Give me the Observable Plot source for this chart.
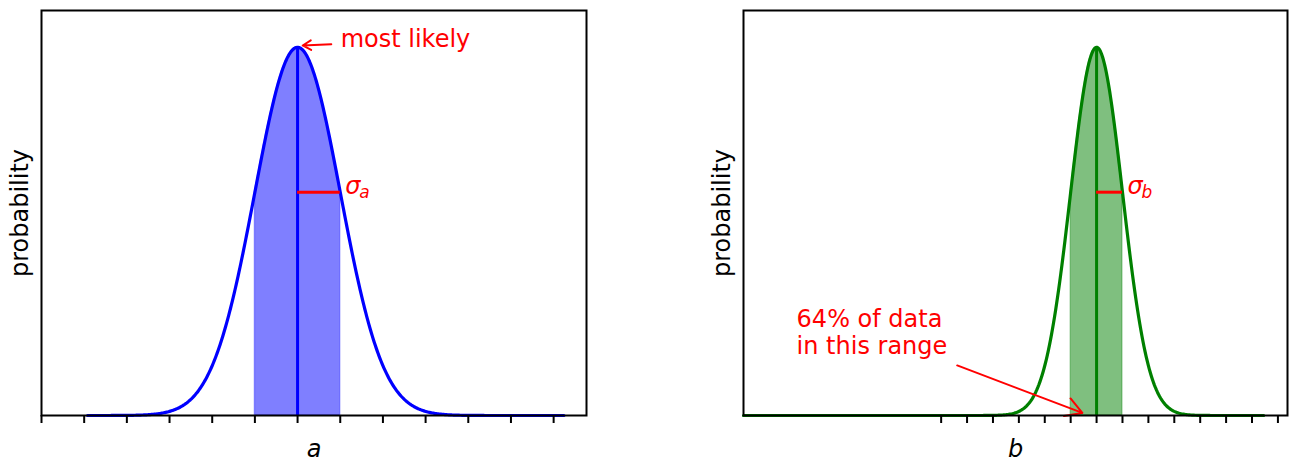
<!DOCTYPE html>
<html><head><meta charset="utf-8">
<script src="https://cdn.jsdelivr.net/npm/d3@7"></script>
<script src="https://cdn.jsdelivr.net/npm/@observablehq/plot@0.6"></script>
<style>
body{margin:0;background:#fff;overflow:hidden}
#row{display:flex;width:1290px;height:462px}
#row svg{flex:none}
</style></head><body><div id="row"></div>
<script>
// ---- Panel a (blue) ----
const aMean = 0, aSigma = 1;
const aDomain = [-6, 6.77];
const aCurveRange = [-4.92, 6.24];
const aTicks = [-6, -5, -4, -3, -2, -1, 0, 1, 2, 3, 4, 5, 6];
const aLabel = "a";
const aNote = [{x: 1.01, y: 1.0, t: "most likely"}];
const aArrow = [{x1: 0.79, y1: 1.008, x2: 0.12, y2: 1.005}];

// ---- Panel b (green) ----
const bMean = 0, bSigma = 1;
const bDomain = [-13.63, 7.37];
const bCurveRange = [-13.63, 6.45];
const bTicks = [-6, -5, -4, -3, -2, -1, 0, 1, 2, 3, 4, 5, 6, 7];
const bLabel = "b";
const bNote = [{x: -11.58, y: 0.168, t: "64% of data\nin this range"}];
const bArrow = [{x1: -5.38, y1: 0.136, x2: -0.55, y2: 0.007}];

const yDomain = [0, 1.1];
const FONT = "DejaVu Sans";

// normal density scaled so the peak is 1
const density = (x, m, s) => Math.exp(-0.5 * ((x - m) / s) ** 2);
const sample = (lo, hi, m, s, n = 500) =>
  d3.range(n + 1).map(i => { const x = lo + (hi - lo) * i / n; return {x, y: density(x, m, s)}; });

function panel({mean, sigma, domain, curveRange, ticks, label, note, arrow, color, marginLeft, marginRight}) {
  const curve = sample(curveRange[0], curveRange[1], mean, sigma);
  const shade = sample(mean - sigma, mean + sigma, mean, sigma, 200);
  const sigY = density(mean + sigma, mean, sigma);
  return Plot.plot({
    width: 645, height: 462,
    marginTop: 10, marginBottom: 47, marginLeft, marginRight,
    style: {fontFamily: FONT, background: "white"},
    x: {domain, axis: null},
    y: {domain: yDomain, axis: null},
    marks: [
      Plot.areaY(shade, {x: "x", y: "y", fill: color, fillOpacity: 0.5, stroke: color, strokeOpacity: 0.3, strokeWidth: 1.5}),
      Plot.line(curve, {x: "x", y: "y", stroke: color, strokeWidth: 3.2}),
      Plot.ruleX([mean], {y1: 0, y2: 1, stroke: color, strokeWidth: 3}),
      Plot.ruleY([sigY], {x1: mean, x2: mean + sigma, stroke: "red", strokeWidth: 3}),
      Plot.text([{x: mean + sigma, y: sigY}], {x: "x", y: "y", text: () => "σ", fill: "red", fontSize: 24, fontStyle: "italic", textAnchor: "start", lineAnchor: "bottom", dx: 5, dy: 2}),
      Plot.text([{x: mean + sigma, y: sigY}], {x: "x", y: "y", text: () => label, fill: "red", fontSize: 17, fontStyle: "italic", textAnchor: "start", lineAnchor: "bottom", dx: 19, dy: 6}),
      Plot.text(note, {x: "x", y: "y", text: "t", fill: "red", fontSize: 24, textAnchor: "start", lineAnchor: "bottom", lineHeight: 1.1}),
      Plot.arrow(arrow, {x1: "x1", y1: "y1", x2: "x2", y2: "y2", stroke: "red", strokeWidth: 2, headLength: 14, bend: 0}),
      Plot.frame({stroke: "black", strokeWidth: 2}),
      Plot.axisX({ticks, tickSize: 8, tickFormat: () => "", label: null, stroke: "black", strokeWidth: 2}),
      Plot.text([label], {frameAnchor: "bottom", text: d => d, fontSize: 24, fontStyle: "italic", lineAnchor: "bottom", dy: 41, fill: "black"}),
      Plot.text(["probability"], {frameAnchor: "left", text: d => d, rotate: -90, fontSize: 24, textAnchor: "middle", lineAnchor: "middle", dx: -21, fill: "black"})
    ]
  });
}

const row = document.getElementById("row");
row.append(panel({mean: aMean, sigma: aSigma, domain: aDomain, curveRange: aCurveRange, ticks: aTicks, label: aLabel, note: aNote, arrow: aArrow, color: "#0000ff", marginLeft: 41, marginRight: 59}));
row.append(panel({mean: bMean, sigma: bSigma, domain: bDomain, curveRange: bCurveRange, ticks: bTicks, label: bLabel, note: bNote, arrow: bArrow, color: "#008000", marginLeft: 98, marginRight: 3}));
</script></body></html>
